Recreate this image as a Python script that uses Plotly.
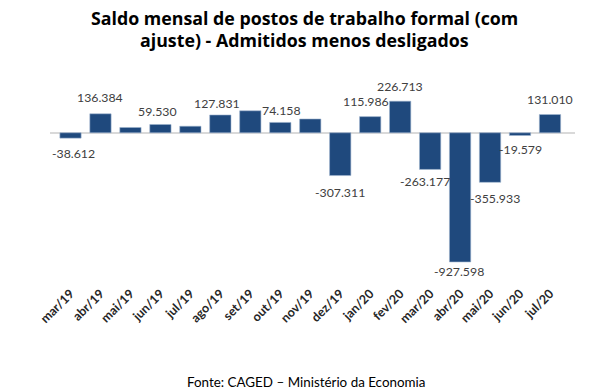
import plotly.graph_objects as go

meses = ["mar/19", "abr/19", "mai/19", "jun/19", "jul/19", "ago/19", "set/19", "out/19",
         "nov/19", "dez/19", "jan/20", "fev/20", "mar/20", "abr/20", "mai/20", "jun/20", "jul/20"]
saldo = [-38612, 136384, 38000, 59530, 47000, 127831, 158000, 74158,
         99000, -307311, 115986, 226713, -263177, -927598, -355933, -19579, 131010]
rotulos = ["-38.612", "136.384", "", "59.530", "", "127.831", "", "74.158",
           "", "-307.311", "115.986", "226.713", "-263.177", "-927.598", "-355.933", "-19.579", "131.010"]
titulo = ["Saldo mensal de postos de trabalho formal (com",
          "ajuste) - Admitidos menos desligados"]
fonte = "Fonte: CAGED – Ministério da Economia"

# label offsets (style only)
xshift = [3, 0, 0, -3, 0, -3, 0, 1, 0, 0, -4, 0, -5, -1, 5, 0, 0]
yshift = [-15, 16, 0, 13, 0, 11, 0, 12, 0, -17, 15, 15, -12, -10, -16, -14, 15]

W, H = 612, 392
ml, mr, mt, mb = 49.5, 36.5, 91, 113
pw, ph = W - ml - mr, H - mt - mb


def px(x):
    return (x - ml) / pw


def py(y):
    return (H - mb - y) / ph


fig = go.Figure()
fig.add_trace(go.Bar(
    x=meses, y=saldo,
    marker=dict(color="#1F497D", line=dict(color="#9db3cf", width=0.6)),
    hoverinfo="skip",
))

for m, v, t, dx, dy in zip(meses, saldo, rotulos, xshift, yshift):
    if t:
        fig.add_annotation(x=m, y=v, text=t, showarrow=False, xshift=dx, yshift=dy,
                           font=dict(family="Lato", size=12.3, color="#404040"),
                           xanchor="center", yanchor="middle")

for linha, ymid in zip(titulo, [17.5, 40]):
    fig.add_annotation(xref="paper", yref="paper", x=px(304.5), y=py(ymid),
                       text="<b>" + linha + "</b>", showarrow=False,
                       font=dict(family="Open Sans", size=17.8, color="#000000"),
                       xanchor="center", yanchor="middle")

fig.add_annotation(xref="paper", yref="paper", x=px(306), y=py(381.7),
                   text=fonte, showarrow=False,
                   font=dict(family="Lato", size=13.4, color="#000000"),
                   xanchor="center", yanchor="middle")

fig.update_layout(
    width=W, height=H,
    margin=dict(l=ml, r=mr, t=mt, b=mb),
    paper_bgcolor="white", plot_bgcolor="white",
    bargap=0.29,
    showlegend=False,
    xaxis=dict(type="category", tickangle=-45, showline=False, showgrid=False, ticks="",
               ticklabelshift=0, ticklabelstandoff=4,
               tickfont=dict(family="Lato", size=12.5, color="#262626", weight="bold")),
    yaxis=dict(range=[-1050000, 300000], showticklabels=False, showgrid=False,
               zeroline=True, zerolinecolor="#d9d9d9", zerolinewidth=1.5),
)

fig.write_html("out.html", config={"displayModeBar": False},
               post_script="document.body.style.margin='0';")
